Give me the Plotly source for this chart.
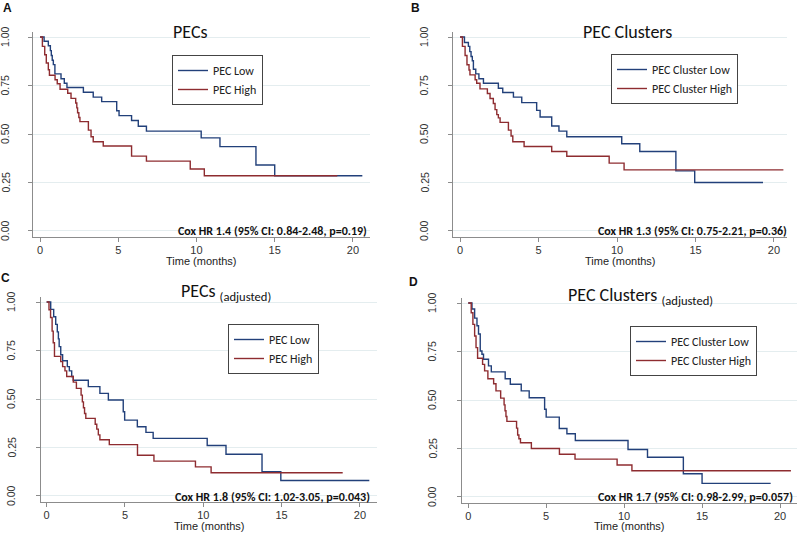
import plotly.graph_objects as go

# --- survival curves (time in months, survival fraction) ---
# A: PECs
a_low_t = [0, 0.26, 0.53, 0.66, 0.72, 0.78, 0.85, 0.95, 1.34, 1.55, 1.72, 2.77, 3.4, 3.94, 4.9, 5.05, 5.85, 6.28, 6.8, 10.3, 11.5, 13.8, 15.0, 20.6]
a_low_s = [1, 0.978, 0.955, 0.93, 0.905, 0.88, 0.858, 0.81, 0.785, 0.762, 0.74, 0.715, 0.69, 0.667, 0.62, 0.595, 0.57, 0.54, 0.515, 0.48, 0.435, 0.34, 0.285, 0.285]
a_high_t = [0, 0.15, 0.3, 0.4, 0.53, 0.6, 0.96, 1.1, 1.28, 1.77, 1.98, 2.28, 2.35, 2.4, 2.48, 2.55, 3.09, 3.26, 3.4, 4.04, 5.85, 6.8, 9.6, 10.5, 19.0]
a_high_s = [1, 0.952, 0.909, 0.866, 0.831, 0.803, 0.78, 0.759, 0.731, 0.71, 0.684, 0.66, 0.635, 0.61, 0.585, 0.564, 0.52, 0.486, 0.46, 0.438, 0.386, 0.36, 0.32, 0.285, 0.285]

# B: PEC Clusters
b_low_t = [0, 0.28, 0.53, 0.62, 0.7, 0.78, 0.85, 1.0, 1.2, 1.49, 2.44, 2.72, 3.4, 3.93, 4.88, 5.1, 5.84, 6.3, 6.8, 10.3, 11.45, 13.75, 14.95, 19.3]
b_low_s = [1, 0.972, 0.952, 0.925, 0.9, 0.878, 0.834, 0.81, 0.785, 0.762, 0.736, 0.714, 0.69, 0.662, 0.622, 0.588, 0.541, 0.515, 0.486, 0.45, 0.41, 0.31, 0.25, 0.25]
b_high_t = [0, 0.15, 0.32, 0.44, 0.57, 0.63, 0.96, 1.06, 1.27, 1.74, 1.91, 2.12, 2.23, 2.34, 2.44, 2.55, 3.08, 3.25, 3.36, 4.08, 5.84, 6.8, 9.5, 10.45, 20.6]
b_high_s = [1, 0.952, 0.905, 0.857, 0.83, 0.805, 0.78, 0.762, 0.733, 0.709, 0.683, 0.657, 0.626, 0.6, 0.583, 0.56, 0.52, 0.49, 0.46, 0.436, 0.41, 0.385, 0.35, 0.315, 0.315]

# C: PECs (adjusted)
c_low_t = [0, 0.26, 0.45, 0.58, 0.68, 0.75, 0.8, 0.9, 1.02, 1.32, 1.45, 1.6, 1.7, 2.66, 3.4, 3.94, 4.89, 4.98, 5.79, 6.34, 6.8, 10.25, 11.45, 13.75, 14.95, 20.6]
c_low_s = [1, 0.962, 0.924, 0.885, 0.846, 0.81, 0.77, 0.728, 0.697, 0.667, 0.645, 0.616, 0.597, 0.564, 0.529, 0.495, 0.434, 0.391, 0.357, 0.328, 0.297, 0.26, 0.215, 0.125, 0.08, 0.08]
c_high_t = [0, 0.15, 0.25, 0.35, 0.42, 0.5, 0.9, 1.02, 1.17, 1.28, 1.7, 1.9, 2.2, 2.28, 2.35, 2.42, 2.5, 3.1, 3.2, 3.3, 3.4, 4.0, 5.8, 6.85, 9.5, 10.5, 18.9]
c_high_s = [1, 0.96, 0.92, 0.85, 0.79, 0.72, 0.693, 0.667, 0.645, 0.616, 0.587, 0.555, 0.52, 0.485, 0.455, 0.425, 0.40, 0.37, 0.345, 0.315, 0.29, 0.265, 0.21, 0.18, 0.15, 0.12, 0.12]

# D: PEC Clusters (adjusted)
d_low_t = [0, 0.24, 0.41, 0.56, 0.66, 0.77, 0.88, 0.98, 1.3, 1.48, 2.37, 2.7, 3.4, 3.91, 4.9, 5.0, 5.84, 6.33, 6.87, 10.25, 11.5, 13.8, 15.0, 19.4]
d_low_s = [1, 0.969, 0.922, 0.883, 0.84, 0.753, 0.736, 0.71, 0.676, 0.645, 0.61, 0.581, 0.547, 0.512, 0.452, 0.412, 0.353, 0.326, 0.291, 0.245, 0.205, 0.12, 0.07, 0.07]
d_high_t = [0, 0.19, 0.3, 0.41, 0.5, 0.6, 0.92, 1.05, 1.26, 1.63, 1.78, 2.08, 2.3, 2.36, 2.42, 2.48, 3.1, 3.17, 3.25, 3.35, 4.05, 5.85, 6.85, 9.55, 10.5, 20.7]
d_high_s = [1, 0.95, 0.89, 0.83, 0.77, 0.715, 0.684, 0.65, 0.61, 0.584, 0.547, 0.51, 0.475, 0.445, 0.415, 0.39, 0.355, 0.32, 0.3, 0.28, 0.25, 0.22, 0.195, 0.165, 0.135, 0.135]

titles = ["PECs", "PEC Clusters", "PECs <sub>(adjusted)</sub>", "PEC Clusters <sub>(adjusted)</sub>"]
letters = ["A", "B", "C", "D"]
low_names = ["PEC Low", "PEC Cluster Low", "PEC Low", "PEC Cluster Low"]
high_names = ["PEC High", "PEC Cluster High", "PEC High", "PEC Cluster High"]
cox_text = [
    "Cox HR 1.4 (95% CI: 0.84-2.48, p=0.19)",
    "Cox HR 1.3 (95% CI: 0.75-2.21, p=0.36)",
    "Cox HR 1.8 (95% CI: 1.02-3.05, p=0.043)",
    "Cox HR 1.7 (95% CI: 0.98-2.99, p=0.057)",
]
x_ticks = [0, 5, 10, 15, 20]
y_ticks = [0, 0.25, 0.5, 0.75, 1.0]
y_tick_labels = ["0.00", "0.25", "0.50", "0.75", "1.00"]

curves = [
    (a_low_t, a_low_s, a_high_t, a_high_s),
    (b_low_t, b_low_s, b_high_t, b_high_s),
    (c_low_t, c_low_s, c_high_t, c_high_s),
    (d_low_t, d_low_s, d_high_t, d_high_s),
]

W, H = 800, 533
BLUE = "#22407a"
RED = "#8e2c30"
SANS = "Liberation Sans, Arial, sans-serif"
CAL = "Carlito, Lato, Open Sans, sans-serif"

# panel geometry in pixels: (left, right, top, bottom) of the axes box
boxes = [(33, 370, 32, 237), (453, 787, 32, 237), (41, 377, 297, 502), (462, 797, 298, 503)]
xranges = [(-0.45, 21.09), (-0.45, 20.83), (-0.36, 21.09), (-0.40, 21.09)]
title_pos = [(190, 32), (627, 32), (226, 292), (640, 296)]
legend_pos = [(172, 55), (611, 54), (228, 324), (630, 326)]
cox_pos = [(369, 231), (789, 231), (372, 497), (795, 497)]
letter_pos = [(7, 8), (415, 8), (5, 278), (413, 282)]
xtitle_y = [261, 261, 526, 526]
ylabel_x = [5, 424, 11, 432]

fig = go.Figure()
layout = dict(
    template="none",
    width=W, height=H,
    margin=dict(l=0, r=0, t=0, b=0),
    paper_bgcolor="white", plot_bgcolor="white",
    showlegend=True,
    annotations=[], shapes=[],
)

for i in range(4):
    sfx = "" if i == 0 else str(i + 1)
    lt, ls, ht, hs = curves[i]
    leg = "legend" + sfx
    fig.add_trace(go.Scatter(x=lt, y=ls, mode="lines", line=dict(color=BLUE, width=1.4, shape="hv"),
                             name=low_names[i], xaxis="x" + sfx, yaxis="y" + sfx, legend=leg))
    fig.add_trace(go.Scatter(x=ht, y=hs, mode="lines", line=dict(color=RED, width=1.4, shape="hv"),
                             name=high_names[i], xaxis="x" + sfx, yaxis="y" + sfx, legend=leg))

    l, r, t, b = boxes[i]
    layout["xaxis" + sfx] = dict(
        domain=[l / W, r / W], range=list(xranges[i]), anchor="y" + sfx, automargin=False,
        tickvals=x_ticks, ticks="outside", ticklen=4, tickcolor="#8c8c8c", ticklabelstandoff=-1,
        showline=True, linecolor="#8c8c8c", linewidth=1.3, showgrid=False, zeroline=False,
        tickfont=dict(family=SANS, size=11, color="#333"),
    )
    layout["yaxis" + sfx] = dict(
        domain=[1 - b / H, 1 - t / H], range=[-0.031, 1.026], anchor="x" + sfx, automargin=False,
        tickvals=y_ticks, showticklabels=False, ticks="outside", ticklen=4, tickcolor="#8c8c8c",
        showline=True, linecolor="#8c8c8c", linewidth=1.3,
        showgrid=True, gridcolor="#e4edef", gridwidth=1, zeroline=False,
    )
    # vertical y tick labels (reading bottom to top)
    for v, lab in zip(y_ticks, y_tick_labels):
        layout["annotations"].append(dict(
            text=lab, x=ylabel_x[i] / W, xref="paper", y=v, yref="y" + sfx,
            xanchor="center", yanchor="middle", textangle=-90, showarrow=False,
            font=dict(family=SANS, size=10.5, color="#333"),
        ))
    lx, ly = legend_pos[i]
    layout[leg] = dict(
        x=lx / W, y=1 - ly / H, xanchor="left", yanchor="top",
        bordercolor="#444", borderwidth=1, bgcolor="white",
        font=dict(family=CAL, size=12, color="#222"),
        tracegroupgap=0,
    )
    tx, ty = title_pos[i]
    layout["annotations"].append(dict(
        text=titles[i], x=tx / W, y=1 - ty / H, xref="paper", yref="paper",
        xanchor="center", yanchor="middle", showarrow=False,
        font=dict(family=CAL, size=18, color="#111"),
    ))
    # x-axis title
    layout["annotations"].append(dict(
        text="Time (months)", x=(l + r) / 2 / W, y=1 - xtitle_y[i] / H, xref="paper", yref="paper",
        xanchor="center", yanchor="middle", showarrow=False,
        font=dict(family=SANS, size=11, color="#222"),
    ))
    cx, cy = cox_pos[i]
    layout["annotations"].append(dict(
        text="<b>" + cox_text[i] + "</b>", x=cx / W, y=1 - cy / H, xref="paper", yref="paper",
        xanchor="right", yanchor="middle", showarrow=False,
        font=dict(family=CAL, size=12, color="#111"),
    ))
    px_, py_ = letter_pos[i]
    layout["annotations"].append(dict(
        text="<b>" + letters[i] + "</b>", x=px_ / W, y=1 - py_ / H, xref="paper", yref="paper",
        xanchor="center", yanchor="middle", showarrow=False,
        font=dict(family=SANS, size=12, color="#111"),
    ))

fig.update_layout(**layout)
fig.write_html("out.html", config={"displayModeBar": False},
               post_script="document.body.style.margin='0';")
